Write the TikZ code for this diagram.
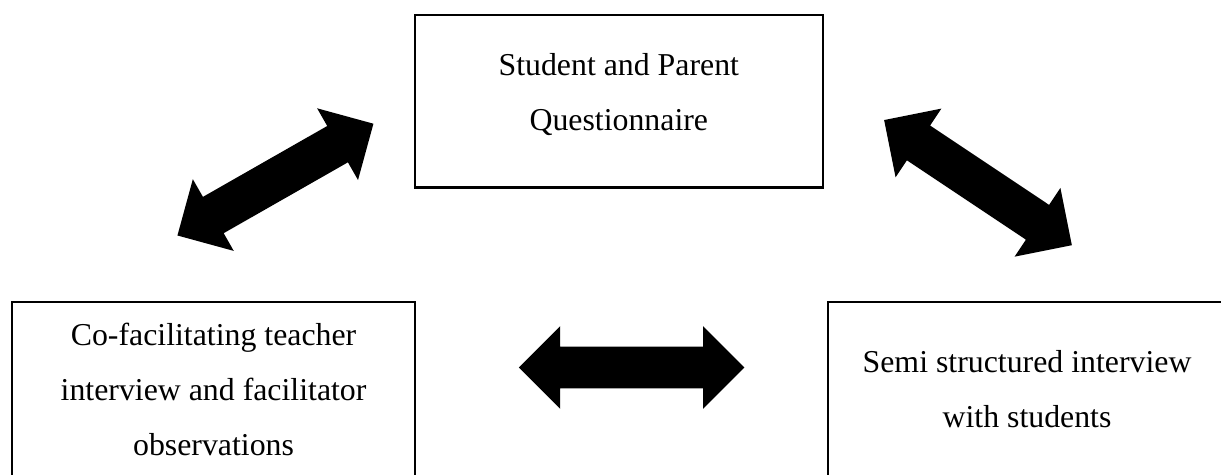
\documentclass[tikz,border=0pt]{standalone}
\usepackage{fontspec}
\setmainfont{Liberation Serif}
\usetikzlibrary{positioning}
\usetikzlibrary{shapes.arrows}

\begin{document}
\begin{tikzpicture} [
            box/.style={draw=black,line width=0.85pt,rectangle,inner sep=0pt},
            bigarrow/.style={double arrow,fill=black,inner xsep=0pt,inner ysep=0.27cm,
               minimum height=2.99cm,minimum width=1.09cm,
               double arrow head extend=0.27cm,double arrow tip angle=90},
         every node/.append style={align=center,font=\fontsize{12pt}{20.9pt}\selectfont}]

% page area, the two lower boxes run past its bottom edge
\clip (0,0) rectangle (16.18,6.29);

%Q
\node (quest) at (8.2,4.95) [box,minimum width=5.41cm,minimum height=2.29cm,text depth=7pt]
   {Student and Parent\\Questionnaire};

%T
\node (teach) at (2.83,1.13) [box,minimum width=5.34cm,minimum height=2.31cm]
   {Co-facilitating teacher\\interview and facilitator\\observations};

%S
\node (semi) at (13.61,1.13) [box,minimum width=5.27cm,minimum height=2.31cm]
   {Semi structured interview\\with students};

% arrows between the boxes
\node (arrowL) at (3.65,3.91) [bigarrow,rotate=29.7] {};
\node (arrowR) at (12.96,3.87) [bigarrow,rotate=-33.7] {};
\node (arrowB) at (8.37,1.42) [bigarrow] {};

\end{tikzpicture}
\end{document}
